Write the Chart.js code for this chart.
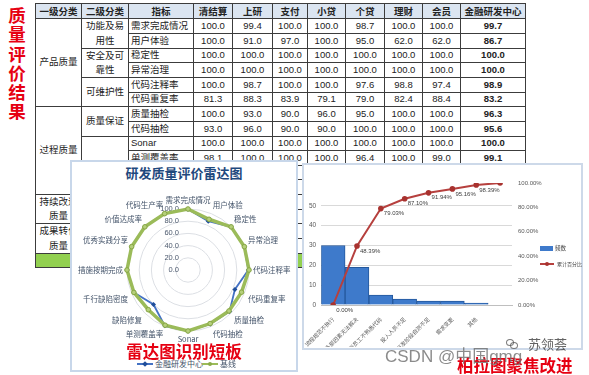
<!DOCTYPE html>
<html>
<head>
<meta charset="utf-8">
<script src="https://cdn.jsdelivr.net/npm/chart.js@4.4.1/dist/chart.umd.min.js"></script>
<style>
body{margin:0;width:589px;height:375px;position:relative;overflow:hidden;background:#fff;font-family:"Liberation Sans","Noto Sans CJK SC",sans-serif}
#side{position:absolute;left:7px;top:5px;width:20px;font-family:"Noto Sans CJK SC";font-size:17.5px;line-height:19.3px;font-weight:bold;color:#e60012;text-align:center}
.c{position:absolute;box-sizing:border-box;border:1px solid #3c3c3c;display:flex;align-items:center;justify-content:center;text-align:center;font-size:9.5px;color:#222;line-height:14.5px;overflow:hidden;padding:0 2px}
.l{justify-content:flex-start;text-align:left;padding:0 1px 0 2px;white-space:nowrap}
.h{background:#dbe5f1;font-weight:bold;font-family:"Noto Sans CJK SC"}
.b{font-weight:bold}
.g{background:#92d050}
.panel{position:absolute;box-sizing:border-box;background:#fff;z-index:2}
#rp{left:70px;top:160px;width:228px;height:212px;border:2px solid #c8d7ea}
#pp{left:302px;top:163px;width:281px;height:187px;border:2px solid #cdd9e9}
canvas{position:absolute;z-index:3}
.txt{position:absolute;z-index:4;white-space:nowrap;font-family:"Noto Sans CJK SC"}
.ln{position:absolute;z-index:4;height:2px}
.mk{position:absolute;z-index:4;width:4px;height:4px}
.wx{position:absolute;z-index:5;width:6px;height:5px;border:1px solid rgba(90,90,90,0.8);border-radius:50%}
</style>
</head>
<body>
<div id="side"></div>
<div id="tbl"></div>
<div class="panel" id="rp"></div>
<div class="panel" id="pp"></div>
<canvas id="radar" width="220" height="150" style="left:75px;top:195px"></canvas>
<canvas id="pareto" width="280" height="185" style="left:302px;top:165px"></canvas>

<div class="txt" style="left:70px;width:228px;top:163px;text-align:center;font-size:13px;font-weight:bold;color:#1f497d">研发质量评价雷达图</div>
<div class="ln" style="left:137px;top:363px;width:16px;background:#4472c4"></div>
<div class="mk" style="left:143px;top:362px;background:#1f4e9a;transform:rotate(45deg)"></div>
<div class="txt" style="left:155px;top:358px;font-size:8px;color:#44546a">金融研发中心</div>
<div class="ln" style="left:202px;top:363px;width:16px;background:#9bbb59"></div>
<div class="mk" style="left:208px;top:362px;background:#8aab48;border-radius:50%"></div>
<div class="txt" style="left:220px;top:358px;font-size:8px;color:#44546a">基线</div>
<div class="txt" style="left:70px;width:228px;top:339px;text-align:center;font-size:16.5px;font-weight:bold;color:#e60012">雷达图识别短板</div>

<div class="ln" style="left:540px;top:246px;width:13px;height:5px;background:#3e7acb"></div>
<div class="txt" style="left:555px;top:244px;font-size:5.5px;color:#404040">频数</div>
<div class="ln" style="left:540px;top:263px;width:14px;background:#b6403e"></div>
<div class="mk" style="left:545px;top:262px;background:#a8322f;border-radius:50%"></div>
<div class="txt" style="left:557px;top:260px;font-size:5px;color:#404040">累计百分比</div>

<div class="txt" style="left:457px;top:353px;font-size:16.5px;font-weight:bold;color:#e60012">柏拉图聚焦改进</div>
<div class="txt" style="left:385px;top:342px;font-size:17px;color:rgba(110,110,110,0.8);font-family:'Liberation Sans','Noto Sans CJK SC'">CSDN @中国gmg</div>
<div class="wx" style="left:506px;top:339px"></div>
<div class="wx" style="left:510px;top:342px"></div>
<div class="txt" style="left:528px;top:334px;font-size:13px;color:rgba(70,70,70,0.85)">苏领荟</div>

<script>
// 表格数据
const sideTitle = '质量评价结果'
const tableHeads = ['一级分类','二级分类','指标','清结算','上研','支付','小贷','个贷','理财','会员','金融研发中心']
const level1 = [['产品质量',6],['过程质量',6],['持续改进质量',2],['成果转化质量',2]]
const level2 = [['功能及易用性',2],['安全及可靠性',2],['可维护性',2],['质量保证',2],['过程控制',4],['持续改进',2],['成果转化',2]]
const indicators = ['需求完成情况','用户体验','稳定性','异常治理','代码注释率','代码重复率','质量抽检','代码抽检','Sonar','单测覆盖率','缺陷修复','千行缺陷密度','措施按期完成','优秀实践分享','价值达成率','代码生产率']
const qingjiesuan = [100.0,100.0,100.0,100.0,100.0,81.3,100.0,93.0,100.0,98.1]
const shangyan = [99.4,91.0,100.0,100.0,98.7,88.3,93.0,96.0,100.0,100.0]
const zhifu = [100.0,97.0,100.0,100.0,100.0,83.9,90.0,90.0,100.0,100.0]
const xiaodai = [100.0,100.0,100.0,100.0,100.0,79.1,96.0,90.0,100.0,100.0]
const gedai = [98.7,95.0,100.0,100.0,97.6,79.0,95.0,100.0,100.0,96.4]
const licai = [100.0,62.0,100.0,100.0,98.8,82.4,100.0,100.0,100.0,100.0]
const huiyuan = [100.0,62.0,100.0,100.0,97.4,88.4,100.0,100.0,100.0,99.0]
const zhongxin = [99.7,86.7,100.0,100.0,98.9,83.2,96.3,95.6,100.0,99.1,80.0,96.0,100.0,100.0,100.0,100.0]
const jixian = [100,90,100,100,100,95,95,95,100,98,92,96,100,100,100,100]
const radarTicks = [0,20,40,60,80,100]

// 柏拉图数据
const causes = ['流程规范不执行','外部因素无法解决','新员工不熟悉代码','投入人员不足','开发阶段自测不足','需求变更','其他','']
const freq = [30,19,5,3,2,2,1,null]
const cumPct = [0,48.39,79.03,87.10,91.94,95.16,98.39,100]

document.getElementById('side').innerHTML = sideTitle.split('').join('<br>')

const colX = [35,81,128,193,232,272,307,345,384,422,460,525]
const rowY = i => Math.round(18.3 + i * 14.65)
const tbl = document.getElementById('tbl')
function cell(c0, c1, y0, y1, text, cls) {
    let d = document.createElement('div')
    d.className = 'c ' + (cls || '')
    d.style.left = colX[c0] + 'px'
    d.style.top = y0 + 'px'
    d.style.width = (colX[c1] - colX[c0] + 1) + 'px'
    d.style.height = (y1 - y0 + 1) + 'px'
    d.textContent = text
    tbl.appendChild(d)
}
tableHeads.forEach((t, i) => cell(i, i + 1, 3, rowY(0), t, 'h'))
let r = 0
level1.forEach(([t, n]) => { cell(0, 1, rowY(r), rowY(r + n), t); r += n })
r = 0
level2.forEach(([t, n]) => { cell(1, 2, rowY(r), rowY(r + n), t); r += n })
const cols = [qingjiesuan, shangyan, zhifu, xiaodai, gedai, licai, huiyuan]
indicators.forEach((t, i) => {
    cell(2, 3, rowY(i), rowY(i + 1), t, 'l')
    cols.forEach((arr, j) => cell(3 + j, 4 + j, rowY(i), rowY(i + 1), arr[i] != null ? arr[i].toFixed(1) : ''))
    cell(10, 11, rowY(i), rowY(i + 1), zhongxin[i].toFixed(1), 'b')
})
cell(0, 11, rowY(16), rowY(17), '', 'g')

const latin = '"Liberation Sans","Noto Sans CJK SC",sans-serif'

const radarTickPlugin = {
    id: 'radarTicks',
    beforeDatasetsDraw(chart) {
        const s = chart.scales.r, ctx = chart.ctx
        ctx.save()
        ctx.font = '7.5px ' + latin
        ctx.fillStyle = '#4d5a6e'
        ctx.textAlign = 'right'
        ctx.textBaseline = 'middle'
        radarTicks.forEach(v => ctx.fillText(v.toFixed(1), s.xCenter - 9, s.yCenter - s.getDistanceFromCenterForValue(v)))
        ctx.restore()
    }
}

new Chart(document.getElementById('radar'), {
    type: 'radar',
    data: {
        labels: indicators,
        datasets: [
            {label: '金融研发中心', data: zhongxin, borderColor: '#4472c4', backgroundColor: '#1f4e9a', borderWidth: 1.8,
             pointStyle: 'rectRot', pointRadius: 2.5, pointBackgroundColor: '#1f4e9a', pointBorderWidth: 0, fill: false, order: 1},
            {label: '基线', data: jixian, borderColor: '#9bbb59', backgroundColor: '#9bbb59', borderWidth: 3.5,
             pointRadius: 2.3, pointBackgroundColor: '#b5cf7a', pointBorderColor: '#86a544', pointBorderWidth: 1, fill: false, order: 0}
        ]
    },
    options: {
        responsive: false,
        animation: false,
        plugins: {legend: {display: false}, tooltip: {enabled: false}},
        scales: {
            r: {
                min: 0, max: 100,
                ticks: {display: false, stepSize: 20},
                grid: {circular: true, color: '#dcdfe4'},
                angleLines: {display: false},
                pointLabels: {font: {size: 7.5, family: '"Noto Sans CJK SC",' + latin}, color: '#44546a', padding: 4}
            }
        }
    },
    plugins: [radarTickPlugin]
})

const pctLabelPlugin = {
    id: 'pctLabels',
    afterDatasetsDraw(chart) {
        const meta = chart.getDatasetMeta(0), ctx = chart.ctx
        ctx.save()
        ctx.font = '6px ' + latin
        ctx.fillStyle = '#404040'
        ctx.textAlign = 'left'
        ctx.textBaseline = 'middle'
        meta.data.forEach((pt, i) => {
            if (i < cumPct.length - 1) ctx.fillText(cumPct[i].toFixed(2) + '%', pt.x + 3, pt.y + 5)
        })
        ctx.restore()
    }
}

new Chart(document.getElementById('pareto'), {
    data: {
        labels: causes,
        datasets: [
            {type: 'line', label: '累计百分比', data: cumPct, yAxisID: 'y1', borderColor: '#b6403e', backgroundColor: '#a8322f',
             borderWidth: 2, pointRadius: 2.8, pointBackgroundColor: '#a8322f', pointBorderWidth: 0, tension: 0, order: 0},
            {type: 'bar', label: '频数', data: freq, yAxisID: 'y', backgroundColor: '#3e7acb', borderColor: '#24589c',
             borderWidth: 1, barPercentage: 1, categoryPercentage: 1, order: 1}
        ]
    },
    options: {
        responsive: false,
        animation: false,
        layout: {padding: {top: 18, right: 40, bottom: 3, left: 0}},
        plugins: {legend: {display: false}, tooltip: {enabled: false}},
        scales: {
            x: {
                grid: {display: false},
                border: {color: '#bfbfbf'},
                ticks: {font: {size: 5.5, family: '"Noto Sans CJK SC",' + latin}, color: '#595959', minRotation: 45, maxRotation: 45, autoSkip: false, padding: 3},
                afterFit: s => { s.height = 42 }
            },
            y: {
                position: 'left', min: 0, max: 61.5,
                ticks: {stepSize: 10, font: {size: 6.5, family: latin}, color: '#595959', padding: 5},
                grid: {color: '#d9d9d9', drawTicks: false},
                border: {display: false},
                afterBuildTicks: s => { s.ticks = s.ticks.filter(t => t.value % 10 === 0) },
                afterFit: s => { s.width = 15 }
            },
            y1: {
                position: 'right', min: 0, max: 100,
                ticks: {stepSize: 20, font: {size: 6, family: latin}, color: '#595959', padding: 6, callback: v => v.toFixed(2) + '%'},
                grid: {drawOnChartArea: false, drawTicks: false},
                border: {display: false},
                afterFit: s => { s.width = 30 }
            }
        }
    },
    plugins: [pctLabelPlugin]
})
</script>
</body>
</html>
